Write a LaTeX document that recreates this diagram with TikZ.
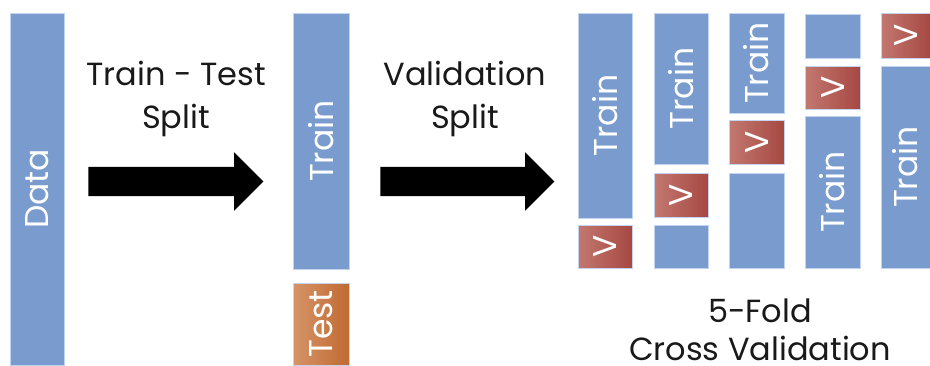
\documentclass[tikz,border=0pt]{standalone}
\usepackage{fontspec}
\setmainfont{Poppins}
\usepackage{graphicx}
\usetikzlibrary{shapes.arrows}
\definecolor{barblue}{RGB}{122,155,205}
\definecolor{barline}{RGB}{196,212,238}
\definecolor{vleft}{RGB}{194,120,112}
\definecolor{vright}{RGB}{166,72,66}
\definecolor{tleft}{RGB}{214,148,104}
\definecolor{tright}{RGB}{192,106,50}
\tikzset{
  bar/.style={rectangle, inner sep=0pt, fill=barblue, draw=barline, line width=0.6pt,
    text=white, font=\fontsize{33}{36}\selectfont},
  vbox/.style={bar, left color=vleft, right color=vright},
  testbox/.style={bar, left color=tleft, right color=tright},
  title/.style={font=\fontsize{32}{36}\selectfont, text=black!90, anchor=base, inner sep=0pt},
  bigarrow/.style={single arrow, fill=black, draw=none, inner sep=14.5pt,
    minimum width=58pt, single arrow head extend=14.5pt, single arrow tip angle=90},
}
\begin{document}
\begin{tikzpicture}[x=1pt, y=1pt]
\useasboundingbox (0,0) rectangle (930,-365);
% data
\node[bar, minimum width=54pt, minimum height=352pt] (data) at (37,-189) {\rotatebox{90}{Data}};
% arrow 1
\node[bigarrow, minimum height=175pt] (arr1) at (168.5,-181.5) {};
\node[title] (t1a) at (176,-85) {Train - Test};
\node[title] (t1b) at (176,-128) {Split};
% train / test
\node[bar, minimum width=56pt, minimum height=256pt] (train) at (321,-141) {\rotatebox{90}{Train}};
\node[testbox, minimum width=56pt, minimum height=82pt] (test) at (321,-324) {\rotatebox{90}{Test}};
% arrow 2
\node[bigarrow, minimum height=174pt] (arr2) at (460,-181.5) {};
\node[title] (t2a) at (465,-85) {Validation};
\node[title] (t2b) at (465,-128) {Split};
% fold 1
\node[bar, minimum width=54pt, minimum height=205pt] (f1t) at (605,-115.5) {\rotatebox{90}{Train}};
\node[vbox, minimum width=54pt, minimum height=43pt] (f1v) at (605,-246.5) {\rotatebox{90}{V}};
% fold 2
\node[bar, minimum width=54pt, minimum height=151pt] (f2t) at (681,-88.5) {\rotatebox{90}{Train}};
\node[vbox, minimum width=54pt, minimum height=44pt] (f2v) at (681,-195) {\rotatebox{90}{V}};
\node[bar, minimum width=54pt, minimum height=43pt] (f2b) at (681,-246.5) {};
% fold 3
\node[bar, minimum width=55pt, minimum height=100pt] (f3t) at (756.5,-63) {\rotatebox{90}{Train}};
\node[vbox, minimum width=55pt, minimum height=44pt] (f3v) at (756.5,-142) {\rotatebox{90}{V}};
\node[bar, minimum width=55pt, minimum height=95pt] (f3b) at (756.5,-220.5) {};
% fold 4
\node[bar, minimum width=55pt, minimum height=44pt] (f4a) at (832.5,-36) {};
\node[vbox, minimum width=55pt, minimum height=43pt] (f4v) at (832.5,-87.5) {\rotatebox{90}{V}};
\node[bar, minimum width=55pt, minimum height=152pt] (f4t) at (832.5,-192) {\rotatebox{90}{Train}};
% fold 5
\node[vbox, minimum width=49pt, minimum height=45pt] (f5v) at (905.5,-35.5) {\rotatebox{90}{V}};
\node[bar, minimum width=49pt, minimum height=202pt] (f5t) at (905.5,-167) {\rotatebox{90}{Train}};
% caption
\node[title] (c1) at (760,-322) {5-Fold};
\node[title] (c2) at (760,-360) {Cross Validation};
\end{tikzpicture}
\end{document}
